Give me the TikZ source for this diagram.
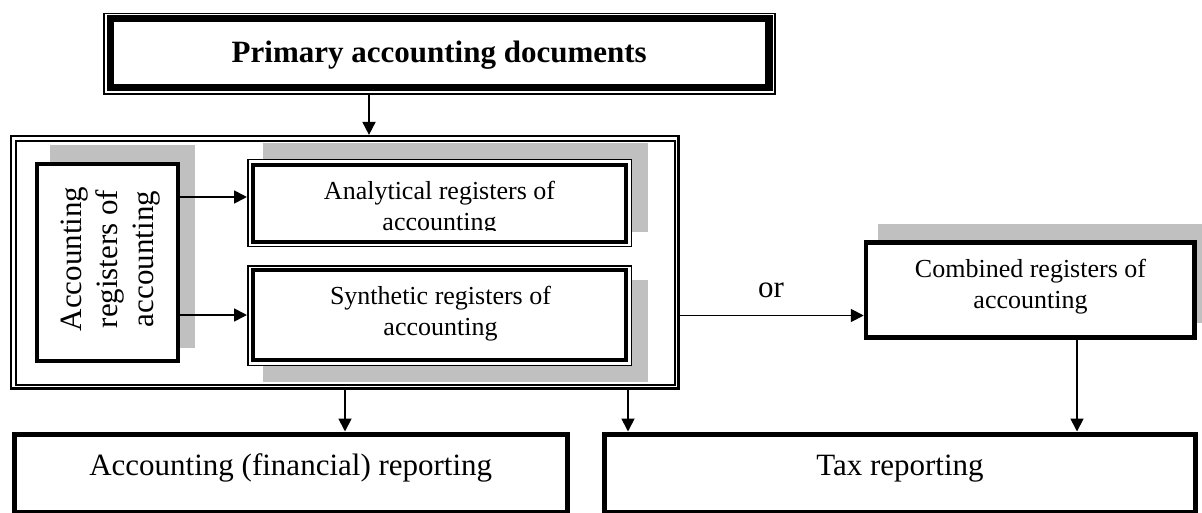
\documentclass[tikz,border=0pt]{standalone}
\usepackage{fontspec}
\setmainfont{Liberation Serif}
\usetikzlibrary{arrows.meta}
\definecolor{shadegray}{RGB}{192,192,192}
\newcommand\fsbig{\fontsize{31}{36}\selectfont}
\newcommand\fsmid{\fontsize{26}{31}\selectfont}
\begin{document}
\begin{tikzpicture}[x=1pt,y=-1pt,
  shadowbox/.style={fill=shadegray,draw=none},
  framebox/.style={draw,fill=white,inner sep=0pt,line width=#1},
  openbox/.style={draw,inner sep=0pt,line width=#1},
  arr/.style={line width=1.8pt,-{Triangle[length=13pt,width=13pt]}},
  midtext/.style={font=\fsmid,align=center,inner sep=0pt,anchor=base},
  bigtext/.style={font=\fsbig,inner sep=0pt}
]
\fill[white] (0,0) rectangle (1202,513);
\useasboundingbox (0,0) rectangle (1202,513);

% shadows
\fill[shadowbox] (50,145) rectangle (195,348);
\fill[shadowbox] (263,143) rectangle (648,232);
\fill[shadowbox] (263,280) rectangle (648,382);
\fill[shadowbox] (878,224) rectangle (1210,323);

% container
\node[openbox=2.2pt,minimum width=667.5pt,minimum height=252.5pt] (cont) at (344.75,262.25) {};
\draw[line width=2pt] ([shift={(6,6)}]cont.north west) rectangle ([shift={(-4.5,-4.5)}]cont.south east);

% top box
\node[framebox=1.5pt,minimum width=671pt,minimum height=80.5pt,font=\fsbig\bfseries,text height=22pt,text depth=4pt] (prim) at (439.25,54) {Primary accounting documents};
\draw[line width=7.5pt] ([shift={(7.25,5.75)}]prim.north west) rectangle ([shift={(-6.75,-7.25)}]prim.south east);

% accounting registers
\node[framebox=4.5pt,minimum width=141pt,minimum height=197pt] (acc) at (107.5,262.5) {};
\node[font=\fsbig,align=center,rotate=90,inner sep=0pt] (acctext) at (111,259) {Accounting\\registers of\\accounting};

% analytical
\node[framebox=1.5pt,minimum width=383.5pt,minimum height=86.5pt] (ana) at (439.5,203) {};
\draw[line width=4pt] ([shift={(6.25,5.75)}]ana.north west) rectangle ([shift={(-5.75,-4.75)}]ana.south east);
\begin{scope}
\clip (256,167) rectangle (623,230.5);
\node[midtext] (anatext) at (439.5,230) {Analytical registers of\\accounting};
\end{scope}

% synthetic
\node[framebox=1.5pt,minimum width=383.5pt,minimum height=99.5pt] (syn) at (439.5,315.5) {};
\draw[line width=4pt] ([shift={(6.25,5.25)}]syn.north west) rectangle ([shift={(-5.75,-5.75)}]syn.south east);
\node[midtext] (syntext) at (440.5,335) {Synthetic registers of\\accounting};

% combined
\node[framebox=4.5pt,minimum width=328.5pt,minimum height=95pt] (comb) at (1030.25,290) {};
\node[midtext] (combtext) at (1030.5,308) {Combined registers of\\accounting};

% reporting boxes
\node[framebox=5pt,minimum width=552.5pt,minimum height=78pt,font=\fsbig,text height=16pt,text depth=12pt] (fin) at (290.75,473) {Accounting (financial) reporting};
\node[framebox=5pt,minimum width=591pt,minimum height=78pt,font=\fsbig,text height=16pt,text depth=12pt] (tax) at (900,473) {Tax reporting};

% arrows
\draw[arr] (prim.south |- prim.south) ++(-70.25,0) coordinate (pa) -- (pa |- cont.north);
\path (acc.east) ++(0,-65.5) coordinate (a1);
\path (acc.east) ++(0,52.5) coordinate (a2);
\draw[arr] (a1) -- (a1 -| ana.west);
\draw[arr] (a2) -- (a2 -| syn.west);
\draw[arr] (cont.east |- syn.center) -- (comb.west |- syn.center);
\node[bigtext,anchor=base] (orlabel) at (771,297) {or};
\coordinate (d1) at (345,0);
\coordinate (d2) at (628,0);
\draw[arr] (d1 |- cont.south) -- (d1 |- fin.north);
\draw[arr] (d2 |- cont.south) -- (d2 |- tax.north);
\draw[arr] (comb.south -| 1077,0) -- (tax.north -| 1077,0);
\end{tikzpicture}
\end{document}
